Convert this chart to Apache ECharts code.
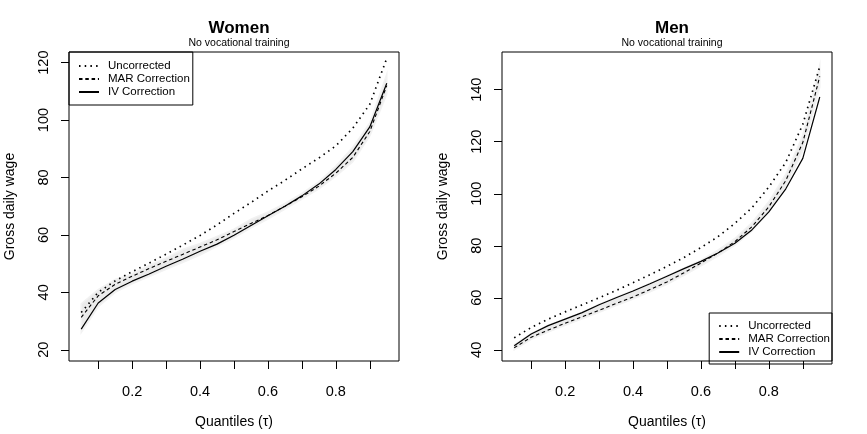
<!DOCTYPE html>
<html>
<head>
<meta charset="utf-8">
<script src="https://cdn.jsdelivr.net/npm/echarts@6/dist/echarts.min.js"></script>
<style>
html,body{margin:0;padding:0;background:#fff;}
#chart{width:867px;height:434px;}
</style>
</head>
<body>
<div id="chart"></div>
<script>
const quantiles = [0.05,0.10,0.15,0.20,0.25,0.30,0.35,0.40,0.45,0.50,0.55,0.60,0.65,0.70,0.75,0.80,0.85,0.90,0.95];

const womenUncorrected = [33.0,40.0,44.0,47.2,50.2,53.3,56.5,59.8,63.5,67.5,71.3,75.3,79.0,83.0,86.8,91.0,97.2,105.5,121.5];
const womenMAR        = [31.3,38.8,42.8,45.6,48.3,50.8,53.3,55.8,58.3,61.2,64.0,66.8,70.0,73.3,77.0,81.5,87.0,96.0,112.0];
const womenIV         = [27.2,36.3,41.0,43.9,46.4,49.1,51.6,54.3,56.8,59.9,63.3,66.7,70.0,73.6,77.7,82.8,89.0,97.6,112.8];
const womenBandLow    = [26.0,35.0,40.0,43.0,45.5,48.0,50.5,53.0,56.0,59.0,62.5,65.5,69.0,72.5,76.0,80.5,85.5,94.5,109.0];
const womenBandHigh   = [36.0,41.0,44.5,46.5,49.5,52.0,55.0,57.0,59.5,62.0,65.5,68.0,71.0,74.5,78.5,84.0,90.5,99.0,116.0];

const menUncorrected  = [44.6,48.6,51.8,54.6,57.3,60.0,62.8,65.8,68.9,72.1,75.5,79.3,83.5,88.6,94.6,102.6,112.1,126.7,148.9];
const menMAR          = [40.8,44.8,47.6,50.2,52.7,55.2,57.8,60.3,63.2,66.1,69.6,73.4,77.2,81.6,87.3,95.0,105.1,119.7,145.1];
const menIV           = [41.6,46.1,49.3,51.8,54.3,57.3,60.0,62.6,65.4,68.3,71.2,74.0,77.2,81.0,86.1,93.0,101.9,113.6,137.2];
const menBandLow      = [40.0,44.0,46.8,49.4,51.9,54.4,57.0,59.5,62.3,65.2,68.6,72.3,76.0,80.2,85.6,93.0,102.5,116.5,141.0];
const menBandHigh     = [42.0,46.3,49.5,52.0,54.5,57.5,60.2,62.8,65.6,68.5,71.5,74.5,78.3,82.8,88.8,97.0,107.5,122.5,149.5];

const xTicks = [0.1,0.2,0.3,0.4,0.5,0.6,0.7,0.8,0.9];
const xTickLabels = [0.2,0.4,0.6,0.8];
const womenYTicks = [20,40,60,80,100,120];
const menYTicks = [40,60,80,100,120,140];

const titles = ['Women','Men'];
const subtitle = 'No vocational training';
const seriesNames = ['Uncorrected','MAR Correction','IV Correction'];
const xName = 'Quantiles (\u03c4)';
const yName = 'Gross daily wage';

const FONT = 'Liberation Sans, Arial, sans-serif';
const chart = echarts.init(document.getElementById('chart'), null, {renderer:'canvas'});

function pairs(vals){ return quantiles.map((q,i)=>[q, vals[i]]); }

const styles = [
  {type:[1.5,4.2], width:1.7, cap:'butt'},
  {type:[3.5,2.8], width:1.1, cap:'butt'},
  {type:'solid', width:1.2}
];

function makeXAxis(gi){
  return {
    gridIndex:gi, type:'value', min:0.014, max:0.986,
    axisLine:{show:false},
    axisTick:{show:true, customValues:xTicks, length:8, lineStyle:{color:'#000', width:1}},
    axisLabel:{customValues:xTickLabels, formatter:v=>v.toFixed(1), margin:23, fontSize:14.5, color:'#000', fontFamily:FONT},
    splitLine:{show:false},
    name:xName, nameLocation:'middle', nameGap:54,
    nameTextStyle:{fontSize:14, color:'#000', fontFamily:FONT}
  };
}
function makeYAxis(gi, min, max, ticks){
  return {
    gridIndex:gi, type:'value', min:min, max:max,
    axisLine:{show:false},
    axisTick:{show:true, customValues:ticks, length:8, lineStyle:{color:'#000', width:1}},
    axisLabel:{customValues:ticks, rotate:90, margin:18, fontSize:14.5, color:'#000', fontFamily:FONT},
    splitLine:{show:false},
    name:yName, nameLocation:'middle', nameGap:52,
    nameTextStyle:{fontSize:14, color:'#000', fontFamily:FONT}
  };
}

function bandSeries(gi, lo, hi){
  return {
    type:'custom', xAxisIndex:gi, yAxisIndex:gi, silent:true, z:1,
    data:[[quantiles[0], lo[0]]],
    renderItem:function(params, api){
      const pts = [];
      for (let i=0;i<quantiles.length;i++) pts.push(api.coord([quantiles[i], hi[i]]));
      for (let i=quantiles.length-1;i>=0;i--) pts.push(api.coord([quantiles[i], lo[i]]));
      return {type:'polygon', shape:{points:pts}, style:{fill:'#ebebeb', stroke:'#f2f2f2', lineWidth:1.5}};
    }
  };
}

function lineSeries(gi, name, vals, k){
  return {
    type:'line', name:name, xAxisIndex:gi, yAxisIndex:gi, z:3,
    data:pairs(vals), symbol:'none', showSymbol:false,
    lineStyle:Object.assign({color:'#000'}, styles[k]),
    itemStyle:{color:'#000'}
  };
}

const legendCommon = {
  orient:'vertical', itemWidth:20, itemHeight:10, itemGap:1,
  borderColor:'#000', borderWidth:1, borderRadius:0,
  itemStyle:{opacity:0, borderWidth:0},
  textStyle:{fontSize:11.5, color:'#000', fontFamily:FONT, lineHeight:12, padding:[0,0,0,4]},
  data:seriesNames, selectedMode:false
};

const option = {
  animation:false,
  backgroundColor:'#fff',
  title:[
    {text:titles[0], subtext:subtitle, left:234, top:15, textAlign:'center', itemGap:1,
     textStyle:{fontSize:17, fontWeight:'bold', color:'#000', fontFamily:FONT},
     subtextStyle:{fontSize:10.5, color:'#000', fontFamily:FONT}},
    {text:titles[1], subtext:subtitle, left:667, top:15, textAlign:'center', itemGap:1,
     textStyle:{fontSize:17, fontWeight:'bold', color:'#000', fontFamily:FONT},
     subtextStyle:{fontSize:10.5, color:'#000', fontFamily:FONT}}
  ],
  legend:[
    Object.assign({left:69, top:52, padding:[8,3,7,9]}, legendCommon),
    Object.assign({right:35, bottom:70, padding:[7,2,6,9]}, legendCommon)
  ],
  grid:[
    {left:69, top:52, width:330, height:312, show:true, borderColor:'#000', borderWidth:1, backgroundColor:'transparent'},
    {left:502, top:52, width:330, height:312, show:true, borderColor:'#000', borderWidth:1, backgroundColor:'transparent'}
  ],
  xAxis:[makeXAxis(0), makeXAxis(1)],
  yAxis:[makeYAxis(0,16.1,123.7,womenYTicks), makeYAxis(1,35.7,154.5,menYTicks)],
  series:[
    bandSeries(0, womenBandLow, womenBandHigh),
    lineSeries(0, seriesNames[0], womenUncorrected, 0),
    lineSeries(0, seriesNames[1], womenMAR, 1),
    lineSeries(0, seriesNames[2], womenIV, 2),
    bandSeries(1, menBandLow, menBandHigh),
    lineSeries(1, seriesNames[0], menUncorrected, 0),
    lineSeries(1, seriesNames[1], menMAR, 1),
    lineSeries(1, seriesNames[2], menIV, 2)
  ]
};
chart.setOption(option);
</script>
</body>
</html>
